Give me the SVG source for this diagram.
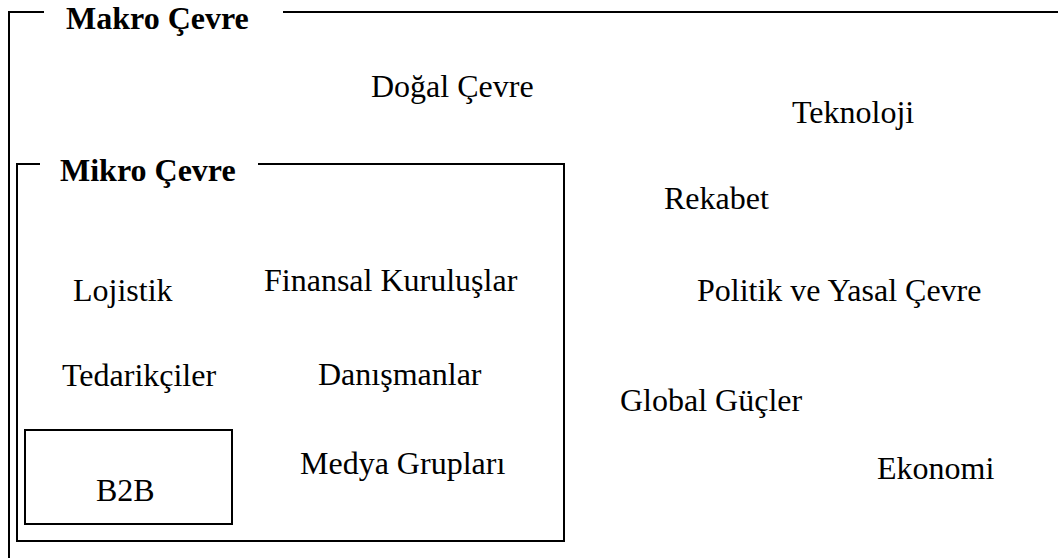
<svg xmlns="http://www.w3.org/2000/svg" width="1058" height="558" viewBox="0 0 1058 558">
<style>
.t{font-family:"Liberation Serif","Times New Roman",serif;font-size:32px;fill:#000}
.b{font-weight:bold}
.ln{stroke:#000;stroke-width:2;fill:none}
</style>
<rect width="1058" height="558" fill="#fff"/>
<g id="makro">
<path class="ln" d="M9,558 V12 H44 M283,12 H1058"/>
<text class="t b" x="66" y="29">Makro Çevre</text>
</g>
<g id="mikro">
<path class="ln" d="M40,164 H17 V541 H564 V164 H258"/>
<text class="t b" x="60" y="181">Mikro Çevre</text>
</g>
<g id="b2b">
<rect class="ln" x="25" y="430" width="207" height="94"/>
<text class="t" x="96" y="501">B2B</text>
</g>
<g id="dogal"><text class="t" x="371" y="97">Doğal Çevre</text></g>
<g id="teknoloji"><text class="t" x="792" y="123">Teknoloji</text></g>
<g id="rekabet"><text class="t" x="664" y="209">Rekabet</text></g>
<g id="lojistik"><text class="t" x="73" y="301">Lojistik</text></g>
<g id="finansal"><text class="t" x="264" y="291">Finansal Kuruluşlar</text></g>
<g id="politik"><text class="t" x="697" y="301">Politik ve Yasal Çevre</text></g>
<g id="tedarikciler"><text class="t" x="62" y="386">Tedarikçiler</text></g>
<g id="danismanlar"><text class="t" x="318" y="385">Danışmanlar</text></g>
<g id="global"><text class="t" x="620" y="411">Global Güçler</text></g>
<g id="medya"><text class="t" x="300" y="474">Medya Grupları</text></g>
<g id="ekonomi"><text class="t" x="877" y="479">Ekonomi</text></g>
<g id="connectors"></g>
</svg>
